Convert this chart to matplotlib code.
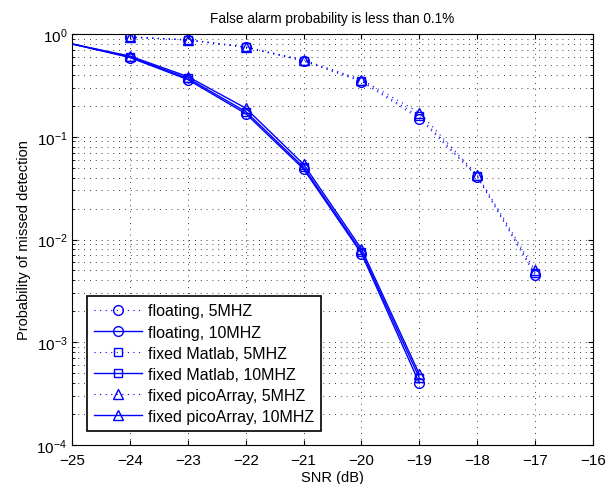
import numpy as np
import matplotlib.pyplot as plt

plt.rcParams['font.family'] = ['Liberation Sans', 'DejaVu Sans']
plt.rcParams['mathtext.fontset'] = 'custom'
plt.rcParams['mathtext.rm'] = 'Liberation Sans'

snr_5 = [-24, -23, -22, -21, -20, -19, -18, -17]
float_5 = [0.93, 0.875, 0.74, 0.545, 0.345, 0.150, 0.0410, 0.0045]
matlab_5 = [0.93, 0.875, 0.745, 0.55, 0.35, 0.158, 0.0415, 0.0047]
pico_5 = [0.94, 0.88, 0.75, 0.56, 0.36, 0.172, 0.0425, 0.0050]

snr_10 = [-25, -24, -23, -22, -21, -20, -19]
float_10 = [0.80, 0.59, 0.36, 0.168, 0.0485, 0.0073, 0.00040]
matlab_10 = [0.80, 0.60, 0.37, 0.176, 0.0505, 0.0076, 0.00045]
pico_10 = [0.80, 0.61, 0.385, 0.190, 0.0540, 0.0081, 0.00049]

labels = ['floating, 5MHZ', 'floating, 10MHZ', 'fixed Matlab, 5MHZ',
          'fixed Matlab, 10MHZ', 'fixed picoArray, 5MHZ', 'fixed picoArray, 10MHZ']

blue = '#0000ff'
fig = plt.figure(figsize=(6.11, 4.85), dpi=100)
ax = fig.add_axes([0.118, 0.0804, 0.8525, 0.8474])

series = [(snr_5, float_5, 'o', ':'), (snr_10, float_10, 'o', '-'),
          (snr_5, matlab_5, 's', ':'), (snr_10, matlab_10, 's', '-'),
          (snr_5, pico_5, '^', ':'), (snr_10, pico_10, '^', '-')]
for (x, y, m, ls), lab in zip(series, labels):
    me = slice(1, None) if ls == '-' else None
    style = '-' if ls == '-' else (0, (1, 4))
    ax.semilogy(x, y, color=blue, marker=m, linestyle=style,
                lw=1.0 if ls == '-' else 0.8,
                markersize=7 if m != 's' else 6, markerfacecolor='none',
                markeredgecolor=blue, markeredgewidth=1.0, markevery=me, label=lab)

ax.set_xlim(-25, -16)
ax.set_ylim(1e-4, 1)
ax.set_xticks(np.arange(-25, -15, 1))
ax.grid(True, which='major', linestyle=(0, (1, 6)), color='k', lw=0.6)
ax.grid(True, which='minor', axis='y', linestyle=(0, (1, 6)), color='k', lw=0.6)
ax.tick_params(which='both', direction='in', top=True, right=True, labelsize=11)
ax.tick_params(axis='x', pad=6)
ax.set_xlabel('SNR (dB)', fontsize=10.5, labelpad=2)
ax.set_ylabel('Probability of missed detection', fontsize=10.5)
ax.set_title('False alarm probability is less than 0.1%', fontsize=9.8, pad=9)

leg = ax.legend(loc='lower left', fontsize=11.5, fancybox=False, framealpha=1,
                edgecolor='k', borderaxespad=0, handlelength=3.0,
                handletextpad=0.35, labelspacing=0.38, borderpad=0.45,
                bbox_to_anchor=(0.029, 0.034))
leg.get_frame().set_linewidth(1.2)

fig.savefig('out.png', dpi=100)
